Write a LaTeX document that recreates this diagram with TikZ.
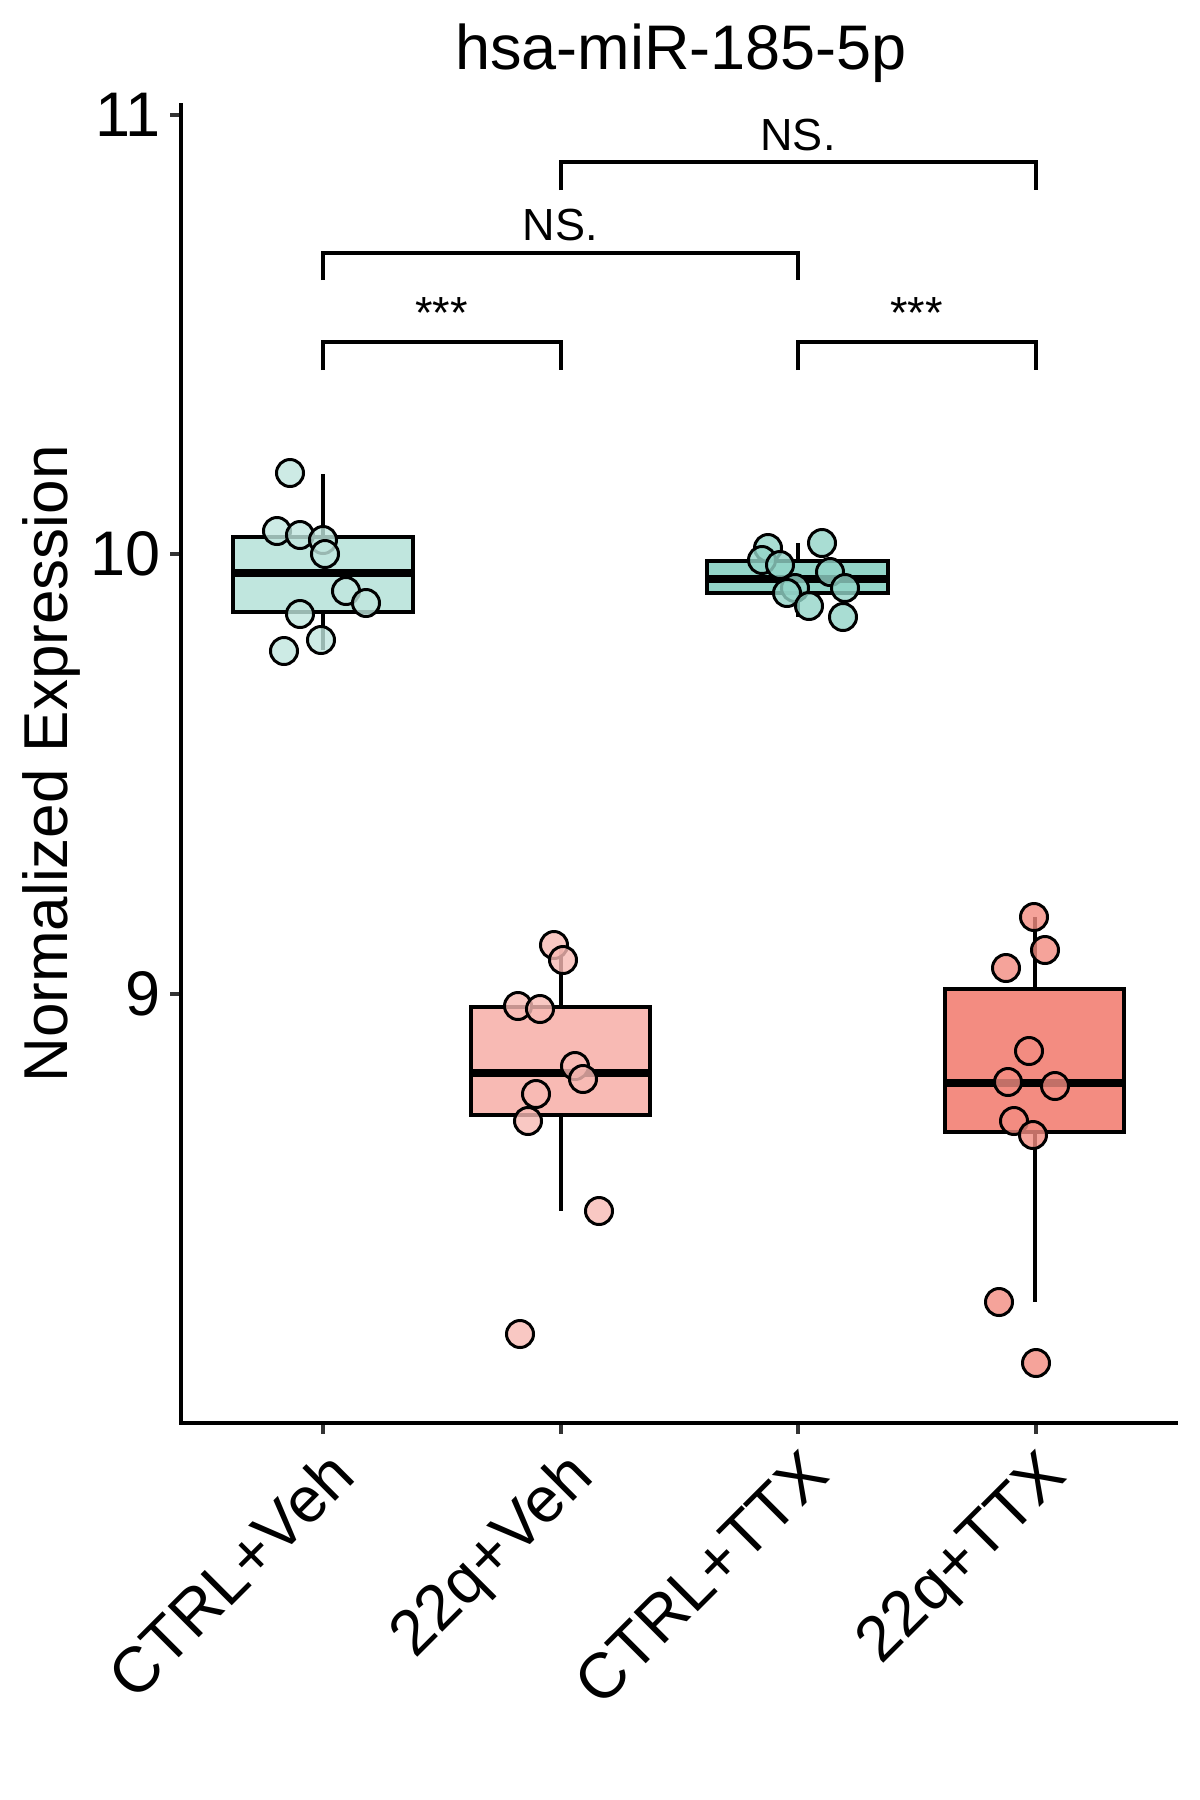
\documentclass[tikz,border=0pt]{standalone}
\usepackage{fontspec}
\setmainfont{Liberation Sans}
\usetikzlibrary{positioning}
\definecolor{ctrlveh}{HTML}{C0E6DE}
\definecolor{ctrlttx}{HTML}{93D5C8}
\definecolor{qveh}{HTML}{F8BAB4}
\definecolor{qttx}{HTML}{F38C81}
\definecolor{tickgrey}{HTML}{333333}

\begin{document}
\begin{tikzpicture}[x=0.5pt, y=-0.5pt]
			\tikzstyle{axis}=[
			line width=2pt,
			black]
			\tikzstyle{tickmark}=[
			line width=2pt,
			draw=tickgrey]
			\tikzstyle{ticklabel}=[
			anchor=east,
			inner sep=0pt,
			font=\fontsize{31.5}{36}\selectfont]
			\tikzstyle{grouplabel}=[
			anchor=north east,
			rotate=45,
			inner sep=0pt,
			font=\fontsize{32}{38}\selectfont]
			\tikzstyle{iqr}=[
			draw,
			line width=2pt]
			\tikzstyle{whisker}=[line width=2pt]
			\tikzstyle{median}=[line width=4pt]
			\tikzstyle{pt}=[
			circle,
			draw,
			line width=1.5pt,
			minimum size=13.5pt,
			inner sep=0pt,
			fill opacity=0.8]
			\tikzstyle{bracket}=[line width=2pt]
			\tikzstyle{sig}=[
			anchor=base,
			inner sep=0pt,
			font=\fontsize{22.5}{27}\selectfont]
			\useasboundingbox (0,0) rectangle (1200,1800);
			%
			\node[anchor=base, inner sep=0pt, font=\fontsize{31.5}{36}\selectfont] (title) at (681,69) {hsa-miR-185-5p};
			\node[anchor=base, rotate=90, inner sep=0pt, font=\fontsize{31}{36}\selectfont] (ytitle) at (68,764) {Normalized Expression};
			%
			\coordinate (origin) at (181,1423);
			\coordinate (ytop) at (181,103);
			\coordinate (xend) at (1178,1423);
			\coordinate (g1) at (323,1423);
			\coordinate (g2) at (560.5,1423);
			\coordinate (g3) at (798,1423);
			\coordinate (g4) at (1035.5,1423);
			\coordinate (y11) at (181,114.5);
			\coordinate (y10) at (181,554);
			\coordinate (y9) at (181,994);
			%
			\draw[tickmark] (y11) -- ++(-11,0);
			\draw[tickmark] (y10) -- ++(-11,0);
			\draw[tickmark] (y9) -- ++(-11,0);
			\draw[tickmark] (g1) -- ++(0,11);
			\draw[tickmark] (g2) -- ++(0,11);
			\draw[tickmark] (g3) -- ++(0,11);
			\draw[tickmark] (g4) -- ++(0,11);
			\draw[axis] (ytop) -- (origin) -- (xend);
			%
			\node[ticklabel] (l11) at (161,114.5) {11};
			\node[ticklabel] (l10) at (161,554) {10};
			\node[ticklabel] (l9) at (161,994) {9};
			\node[grouplabel] (n1) at (325,1446) {CTRL+Veh};
			\node[grouplabel] (n2) at (562.5,1446) {22q+Veh};
			\node[grouplabel] (n3) at (800,1446) {CTRL+TTX};
			\node[grouplabel] (n4) at (1037.5,1446) {22q+TTX};
			%
			\draw[whisker] (323,474) -- (323,650);
			\draw[whisker] (560.5,947) -- (560.5,1211);
			\draw[whisker] (798,543) -- (798,617);
			\draw[whisker] (1035,917) -- (1035,1302);
			%
			\draw[iqr, fill=ctrlveh] (233,537) rectangle (413,612);
			\draw[iqr, fill=qveh] (471,1007) rectangle (650,1115);
			\draw[iqr, fill=ctrlttx] (707,561) rectangle (888,593);
			\draw[iqr, fill=qttx] (945,989) rectangle (1124,1132);
			\draw[median] (233,573) -- (413,573);
			\draw[median] (471,1073) -- (650,1073);
			\draw[median] (707,579) -- (888,579);
			\draw[median] (945,1083) -- (1124,1083);
			%
			\node[pt, fill=ctrlveh] (a1) at (290,473) {};
			\node[pt, fill=ctrlveh] (a2) at (277,531) {};
			\node[pt, fill=ctrlveh] (a3) at (300,535) {};
			\node[pt, fill=ctrlveh] (a4) at (323,540) {};
			\node[pt, fill=ctrlveh] (a5) at (325,554) {};
			\node[pt, fill=ctrlveh] (a6) at (346,591) {};
			\node[pt, fill=ctrlveh] (a7) at (366,603) {};
			\node[pt, fill=ctrlveh] (a8) at (300,614) {};
			\node[pt, fill=ctrlveh] (a9) at (321,640) {};
			\node[pt, fill=ctrlveh] (a10) at (284,651) {};
			%
			\node[pt, fill=qveh] (b1) at (554,945) {};
			\node[pt, fill=qveh] (b2) at (563,960) {};
			\node[pt, fill=qveh] (b3) at (518,1006) {};
			\node[pt, fill=qveh] (b4) at (540,1009) {};
			\node[pt, fill=qveh] (b5) at (575,1066) {};
			\node[pt, fill=qveh] (b6) at (583,1079) {};
			\node[pt, fill=qveh] (b7) at (536,1094) {};
			\node[pt, fill=qveh] (b8) at (528,1121) {};
			\node[pt, fill=qveh] (b9) at (599,1211) {};
			\node[pt, fill=qveh] (b10) at (520,1334) {};
			%
			\node[pt, fill=ctrlttx] (c1) at (768,548) {};
			\node[pt, fill=ctrlttx] (c2) at (762,560) {};
			\node[pt, fill=ctrlttx] (c3) at (780,565) {};
			\node[pt, fill=ctrlttx] (c4) at (822,543) {};
			\node[pt, fill=ctrlttx] (c5) at (830,572) {};
			\node[pt, fill=ctrlttx] (c6) at (795,588) {};
			\node[pt, fill=ctrlttx] (c7) at (787,593) {};
			\node[pt, fill=ctrlttx] (c8) at (809,606) {};
			\node[pt, fill=ctrlttx] (c9) at (845,588) {};
			\node[pt, fill=ctrlttx] (c10) at (843,617) {};
			%
			\node[pt, fill=qttx] (d1) at (1034,917) {};
			\node[pt, fill=qttx] (d2) at (1045,950) {};
			\node[pt, fill=qttx] (d3) at (1006,968) {};
			\node[pt, fill=qttx] (d4) at (1029,1051) {};
			\node[pt, fill=qttx] (d5) at (1008,1082) {};
			\node[pt, fill=qttx] (d6) at (1055,1086) {};
			\node[pt, fill=qttx] (d7) at (1014,1121) {};
			\node[pt, fill=qttx] (d8) at (1033,1135) {};
			\node[pt, fill=qttx] (d9) at (999,1302) {};
			\node[pt, fill=qttx] (d10) at (1036,1363) {};
			%
			\coordinate (s1) at (323,370);
			\coordinate (s2) at (560.5,370);
			\coordinate (s3) at (798,370);
			\coordinate (s4) at (1035.5,370);
			\coordinate (t1) at (323,280);
			\coordinate (t3) at (798,280);
			\coordinate (u2) at (560.5,190);
			\coordinate (u4) at (1035.5,190);
			\draw[bracket] (s1) -- ++(0,-28.5) -| (s2);
			\draw[bracket] (s3) -- ++(0,-28.5) -| (s4);
			\draw[bracket] (t1) -- ++(0,-27) -| (t3);
			\draw[bracket] (u2) -- ++(0,-28) -| (u4);
			\node[sig] (p12) at (441.75,328) {***};
			\node[sig] (p34) at (916.75,328) {***};
			\node[sig] (p13) at (560.5,240) {NS.};
			\node[sig] (p24) at (798,150) {NS.};
		\end{tikzpicture}
\end{document}
